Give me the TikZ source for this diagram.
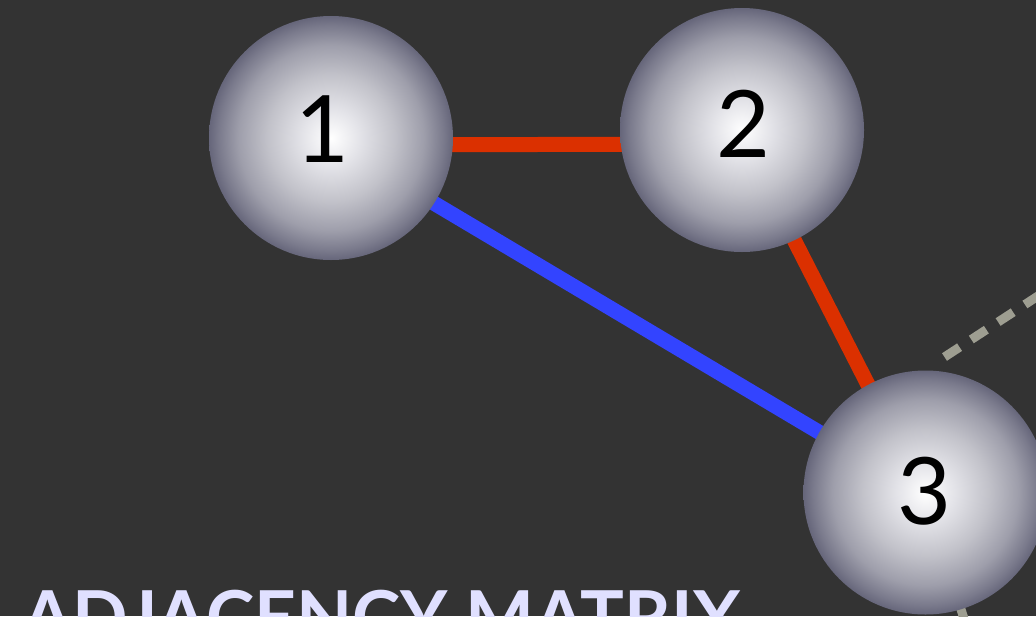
\documentclass[tikz,border=0pt]{standalone}
\usepackage{fontspec}
\setmainfont{Lato}
\usetikzlibrary{calc}
\definecolor{bgcol}{RGB}{51,51,51}
\definecolor{edgered}{RGB}{219,48,0}
\definecolor{edgeblue}{RGB}{51,68,255}
\definecolor{dashgray}{RGB}{158,158,145}
\definecolor{titlecol}{RGB}{224,224,255}
\pgfdeclareradialshading{myball}{\pgfpoint{0bp}{0bp}}{%
  rgb(0bp)=(1,1,1);
  rgb(6bp)=(0.89,0.89,0.91);
  rgb(13bp)=(0.76,0.76,0.79);
  rgb(19bp)=(0.62,0.62,0.67);
  rgb(23bp)=(0.48,0.48,0.55);
  rgb(25bp)=(0.40,0.40,0.48);
  rgb(50bp)=(0.40,0.40,0.48)}
\tikzset{
  ball/.style={circle, minimum size=244pt, inner sep=0pt, shading=myball},
  num/.style={inner sep=0pt, font=\fontsize{93}{93}\selectfont, text=black},
  redge/.style={line width=15pt, edgered},
  bedge/.style={line width=15pt, edgeblue},
  dashline/.style={line width=9pt, dashgray, dash pattern=on 18pt off 14pt},
  titletext/.style={inner sep=0pt, anchor=base west, text=titlecol,
    font=\fontsize{73}{73}\selectfont\bfseries}
}
\begin{document}
\begin{tikzpicture}[x=1pt,y=-1pt]
\fill[bgcol] (0,0) rectangle (1036,616);
\useasboundingbox (0,0) rectangle (1036,616);
\clip (0,0) rectangle (1036,616);
% node positions
\coordinate (p1) at (331,138);
\coordinate (p2) at (742,130);
\coordinate (p3) at (925.5,492.5);
% dashed connectors (partially hidden)
\coordinate (d1s) at (944.5,357);
\coordinate (d1e) at (1110,249);
\coordinate (d2s) at (950,575);
\coordinate (d2e) at (990,700);
\draw[dashline] (d1s) -- (d1e);
\draw[dashline] (d2s) -- (d2e);
% edges
\draw[redge] ($(p1)+(0,7)$) -- ($(p2)+(0,14)$);
\draw[bedge] ($(p1)+(0,4)$) -- ($(p3)+(-2.5,1.5)$);
\draw[redge] ($(p2)+(-4,0)$) -- ($(p3)+(-2.5,0)$);
% balls
\node[ball] (n1) at (p1) {};
\node[ball] (n2) at (p2) {};
\node[ball] (n3) at (p3) {};
\node[num] (t1) at ($(n1)+(-9,-9)$) {1};
\node[num] (t2) at ($(n2)+(1.5,-6.5)$) {2};
\node[num] (t3) at ($(n3)+(-1.5,-1.5)$) {3};
% title
\node[titletext] (title) at (22,643) {ADJACENCY MATRIX};
\end{tikzpicture}
\end{document}
